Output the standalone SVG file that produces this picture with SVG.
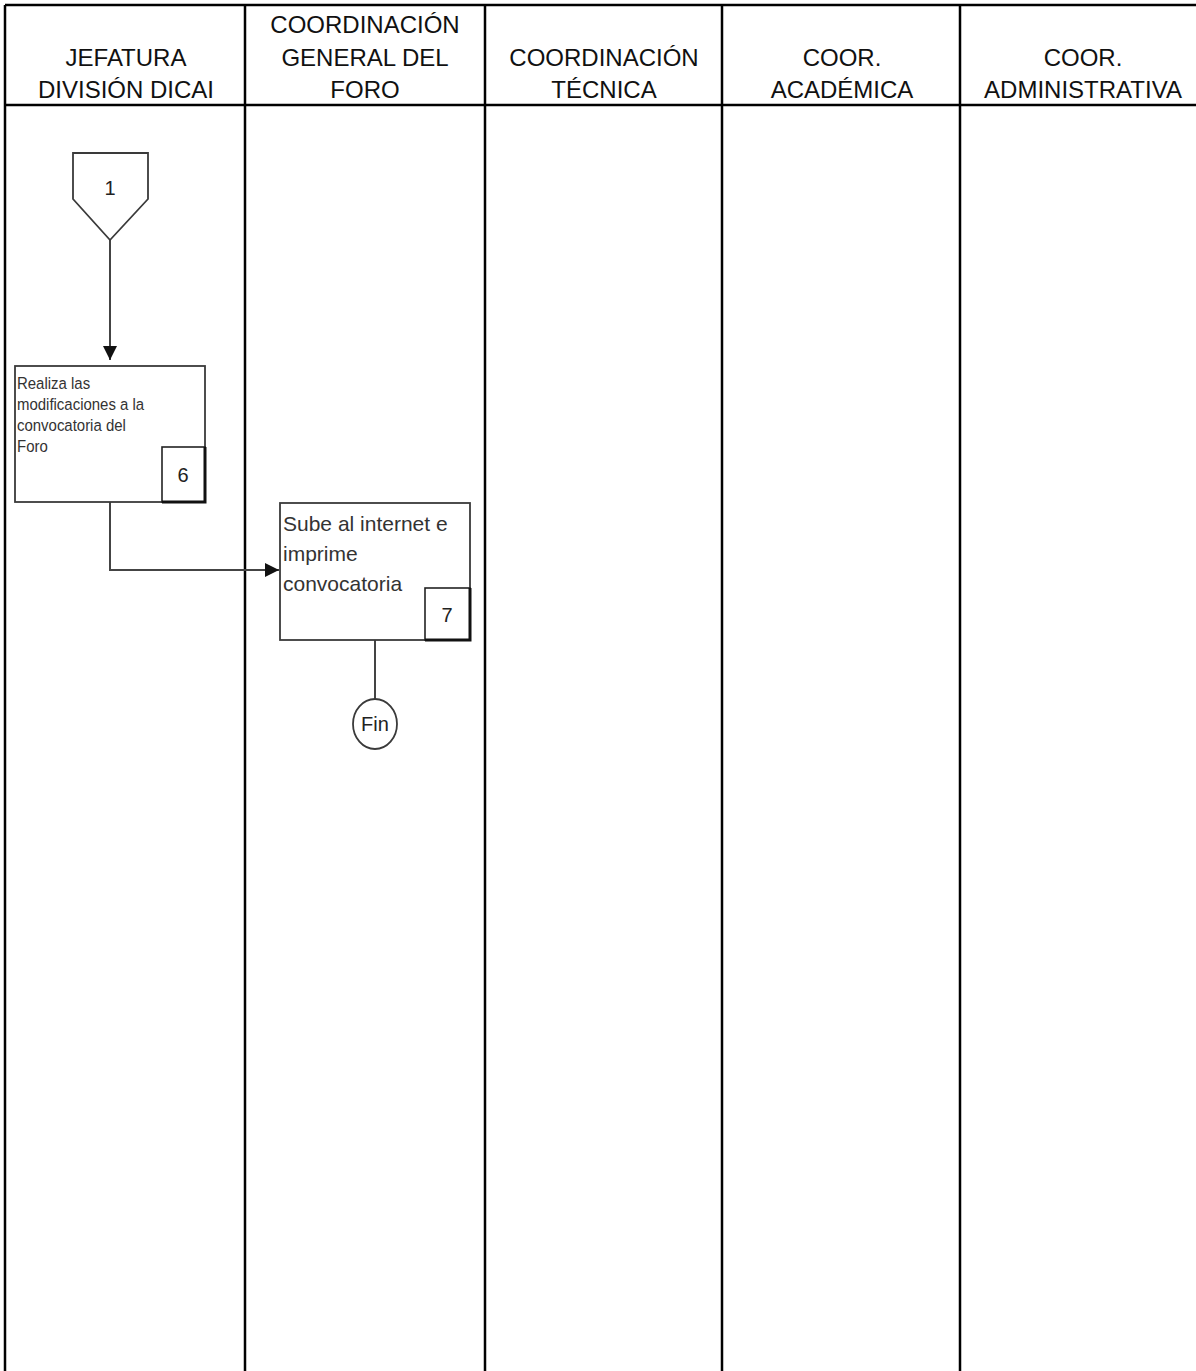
<svg xmlns="http://www.w3.org/2000/svg" width="1196" height="1371" viewBox="0 0 1196 1371">
<style>
.frame{stroke:#000;stroke-width:2.5;fill:none}
.hdr{font-family:"Liberation Sans",Arial,sans-serif;font-size:24px;fill:#111;text-anchor:middle}
.box{fill:#fff;stroke:#3a3a3a;stroke-width:1.8}
.num{fill:#fff;stroke:#222;stroke-width:1.6}
.shadow{fill:none;stroke:#111;stroke-width:3}
.small{font-family:"Liberation Sans",Arial,sans-serif;font-size:17px;fill:#333}
.mid{font-family:"Liberation Sans",Arial,sans-serif;font-size:21px;fill:#333}
.n{font-family:"Liberation Sans",Arial,sans-serif;font-size:20px;fill:#222;text-anchor:middle}
.conn{stroke:#444;stroke-width:2;fill:none}
</style>
<defs>
<marker id="arrw" viewBox="0 0 10 10" refX="10" refY="5" markerWidth="14" markerHeight="14" markerUnits="userSpaceOnUse" orient="auto">
<path d="M0,0 L10,5 L0,10 Z" fill="#111"/>
</marker>
</defs>
<rect width="1196" height="1371" fill="#fff"/>
<g id="frame">
<line class="frame" x1="5" y1="5" x2="1196" y2="5"/>
<line class="frame" x1="5" y1="105" x2="1196" y2="105"/>
<line class="frame" x1="5" y1="5" x2="5" y2="1371"/>
<line class="frame" x1="245" y1="5" x2="245" y2="1371"/>
<line class="frame" x1="485" y1="5" x2="485" y2="1371"/>
<line class="frame" x1="722" y1="5" x2="722" y2="1371"/>
<line class="frame" x1="960" y1="5" x2="960" y2="1371"/>
</g>
<g id="headers">
<text class="hdr" x="126" y="66">JEFATURA</text>
<text class="hdr" x="126" y="98">DIVISIÓN DICAI</text>
<text class="hdr" x="365" y="33">COORDINACIÓN</text>
<text class="hdr" x="365" y="66">GENERAL DEL</text>
<text class="hdr" x="365" y="98">FORO</text>
<text class="hdr" x="604" y="66">COORDINACIÓN</text>
<text class="hdr" x="604" y="98">TÉCNICA</text>
<text class="hdr" x="842" y="66">COOR.</text>
<text class="hdr" x="842" y="98">ACADÉMICA</text>
<text class="hdr" x="1083" y="66">COOR.</text>
<text class="hdr" x="1083" y="98">ADMINISTRATIVA</text>
</g>
<g id="connectors">
<line class="conn" x1="110" y1="240" x2="110" y2="360" marker-end="url(#arrw)"/>
<polyline class="conn" points="110,502 110,570 279,570" marker-end="url(#arrw)"/>
<line class="conn" x1="375" y1="640" x2="375" y2="700"/>
</g>
<g id="node-1">
<polygon class="box" points="73,153 148,153 148,199 110,240 73,199"/>
<text class="n" x="110" y="195">1</text>
</g>
<g id="node-6">
<rect class="box" x="15" y="366" width="190" height="136"/>
<rect class="num" x="162" y="447" width="43" height="55"/>
<polyline class="shadow" points="162,502 205,502 205,447"/>
<g transform="translate(17,0) scale(0.88,1)">
<text class="small" x="0" y="389">Realiza las</text>
<text class="small" x="0" y="410">modificaciones a la</text>
<text class="small" x="0" y="431">convocatoria del</text>
<text class="small" x="0" y="452">Foro</text>
</g>
<text class="n" x="183" y="482">6</text>
</g>
<g id="node-7">
<rect class="box" x="280" y="503" width="190" height="137"/>
<rect class="num" x="425" y="588" width="45" height="52"/>
<polyline class="shadow" points="425,640 470,640 470,588"/>
<text class="mid" x="283" y="531">Sube al internet e</text>
<text class="mid" x="283" y="561">imprime</text>
<text class="mid" x="283" y="591">convocatoria</text>
<text class="n" x="447" y="622">7</text>
</g>
<g id="node-fin">
<ellipse class="box" cx="375" cy="724" rx="22" ry="25"/>
<text class="n" x="375" y="731">Fin</text>
</g>
</svg>
